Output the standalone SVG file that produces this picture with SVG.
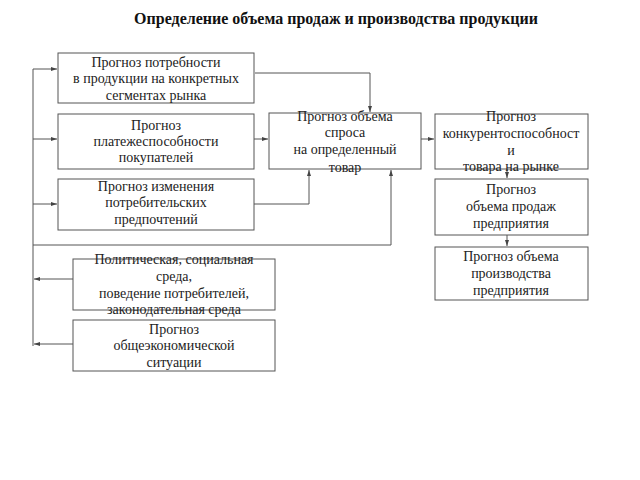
<svg xmlns="http://www.w3.org/2000/svg" width="640" height="480" viewBox="0 0 640 480">
<defs>
<marker id="ah" markerWidth="6" markerHeight="6" refX="6" refY="3" orient="auto" markerUnits="userSpaceOnUse">
<path d="M0,1 L6,3 L0,5 Z" fill="#444"/>
</marker>
<style>
rect{fill:#fff;stroke:#555;stroke-width:1}
text{font-family:"Liberation Serif","Times New Roman",serif;font-size:14px;fill:#222;text-anchor:middle}
.t{font-size:16px;font-weight:bold;fill:#111}
#conn path{fill:none;stroke:#555;stroke-width:1}
</style>
</defs>
<rect x="0" y="0" width="640" height="480" style="fill:#fff;stroke:none"/>
<text class="t" x="336" y="24">Определение объема продаж и производства продукции</text>
<g id="conn">
<path d="M33,346 L33,69 L57,69" marker-end="url(#ah)"/>
<path d="M33,139 L57,139" marker-end="url(#ah)"/>
<path d="M33,204 L57,204" marker-end="url(#ah)"/>
<path d="M73,279 L34,279" marker-end="url(#ah)"/>
<path d="M73,344 L34,344" marker-end="url(#ah)"/>
<path d="M255,73 L370,73 L370,112" marker-end="url(#ah)"/>
<path d="M254,139 L268,139" marker-end="url(#ah)"/>
<path d="M254,204 L309,204 L309,170" marker-end="url(#ah)"/>
<path d="M33,245 L391,245 L391,170" marker-end="url(#ah)"/>
<path d="M421,139 L434,139" marker-end="url(#ah)"/>
<path d="M507,169 L507,178" marker-end="url(#ah)"/>
<path d="M507,235 L507,246" marker-end="url(#ah)"/>
</g>
<g id="n1"><rect x="58" y="53" width="196" height="50"/>
<text x="156" y="67">Прогноз потребности</text><text x="156" y="83">в продукции на конкретных</text><text x="156" y="100">сегментах рынка</text></g>
<g id="n2"><rect x="58" y="114" width="196" height="55"/>
<text x="156" y="130">Прогноз</text><text x="156" y="146">платежеспособности</text><text x="156" y="162">покупателей</text></g>
<g id="n3"><rect x="58" y="179" width="196" height="51"/>
<text x="156" y="191">Прогноз изменения</text><text x="156" y="207">потребительских</text><text x="156" y="224">предпочтений</text></g>
<g id="n4"><rect x="73" y="259" width="202" height="51"/>
<text x="174" y="264">Политическая, социальная</text><text x="174" y="281">среда,</text><text x="174" y="298">поведение потребителей,</text><text x="174" y="314">законодательная среда</text></g>
<g id="n5"><rect x="73" y="320" width="202" height="51"/>
<text x="174" y="334">Прогноз</text><text x="174" y="350">общеэкономической</text><text x="174" y="367">ситуации</text></g>
<g id="n6"><rect x="269" y="113" width="152" height="56"/>
<text x="345" y="121">Прогноз объема</text><text x="345" y="137">спроса</text><text x="345" y="154">на определенный</text><text x="345" y="172">товар</text></g>
<g id="n7"><rect x="435" y="114" width="153" height="55"/>
<text x="511" y="121">Прогноз</text><text x="511" y="138">конкурентоспособност</text><text x="511" y="155">и</text><text x="511" y="171">товара на рынке</text></g>
<g id="n8"><rect x="435" y="179" width="153" height="56"/>
<text x="511" y="194">Прогноз</text><text x="511" y="211">объема продаж</text><text x="511" y="228">предприятия</text></g>
<g id="n9"><rect x="435" y="247" width="153" height="53"/>
<text x="511" y="261">Прогноз объема</text><text x="511" y="278">производства</text><text x="511" y="295">предприятия</text></g>
</svg>
